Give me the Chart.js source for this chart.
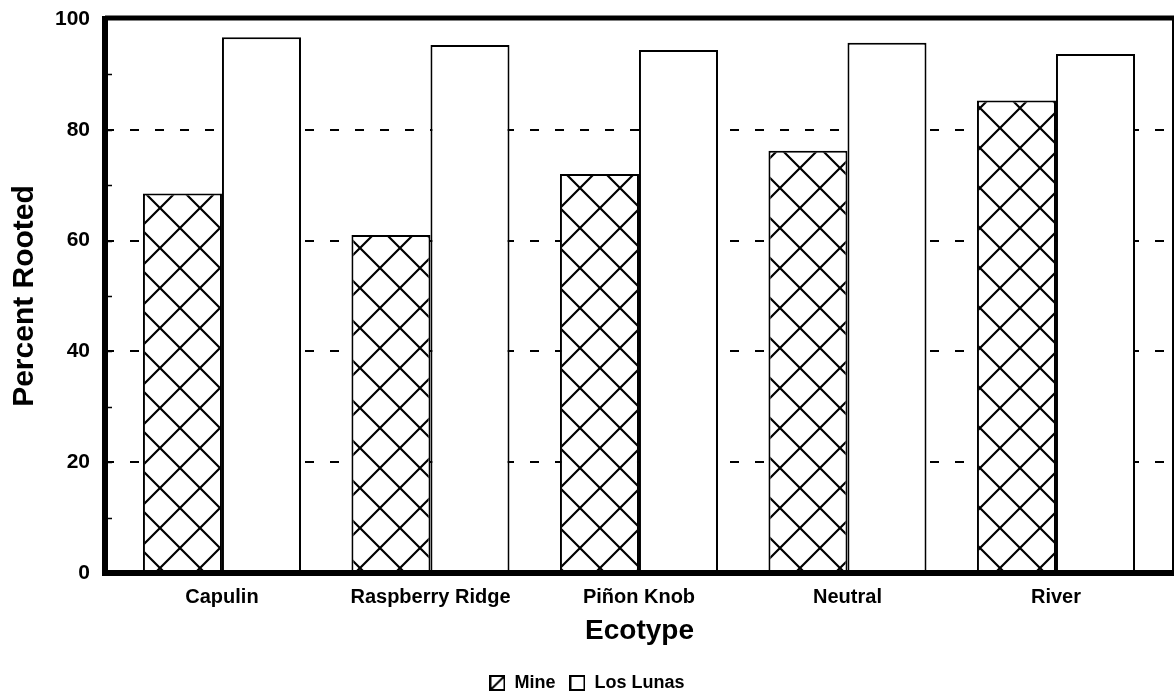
<!DOCTYPE html>
<html>
<head>
<meta charset="utf-8">
<script src="https://cdn.jsdelivr.net/npm/chart.js@4/dist/chart.umd.min.js"></script>
<style>
  html, body { margin: 0; padding: 0; background: #fff; }
  #wrap { width: 1176px; height: 696px; position: relative; }
</style>
</head>
<body>
<div id="wrap"><canvas id="rootChart"></canvas></div>
<script>
//-- data --
const ecotypes = ["Capulin", "Raspberry Ridge", "Piñon Knob", "Neutral", "River"];
const mineValues = [68.5, 61.0, 72.0, 76.2, 85.3];
const losLunasValues = [96.7, 95.3, 94.4, 95.7, 93.7];
const seriesNames = ["Mine", "Los Lunas"];
const yTicks = [0, 20, 40, 60, 80, 100];
const yMinorTicks = [10, 20, 30, 40, 50, 60, 70, 80, 90];

const FONT = "'Liberation Sans', Arial, sans-serif";

//-- cross hatch for the Mine bars --
function makeCrossHatch() {
    const c = document.createElement("canvas");
    c.width = 40; c.height = 40;
    const g = c.getContext("2d");
    g.fillStyle = "#fff";
    g.fillRect(0, 0, 40, 40);
    g.strokeStyle = "#000";
    g.lineWidth = 2.2;
    g.beginPath();
    g.moveTo(-5, -5); g.lineTo(45, 45);
    g.moveTo(45, -5); g.lineTo(-5, 45);
    g.stroke();
    const p = g.createPattern(c, "repeat");
    p.setTransform(new DOMMatrix().translate(0, 8));
    return p;
}

//-- small icons for the legend --
function makeLegendIcon(withDiagonal) {
    const c = document.createElement("canvas");
    c.width = 16; c.height = 16;
    const g = c.getContext("2d");
    g.fillStyle = "#fff";
    g.fillRect(0, 0, 16, 16);
    g.strokeStyle = "#000";
    g.lineWidth = 2;
    g.strokeRect(1, 1, 14, 14);
    if (withDiagonal) {
        g.beginPath();
        g.moveTo(15, 1); g.lineTo(1, 15);
        g.stroke();
    }
    return c;
}

const hatch = makeCrossHatch();
const legendIcons = [makeLegendIcon(true), makeLegendIcon(false)];

//-- frame and minor tick marks drawn on top --
const framePlugin = {
    id: "frame",
    afterDatasetsDraw(chart) {
        const { ctx, chartArea } = chart;
        const { left, right, top, bottom } = chartArea;
        const y = chart.scales.y;
        ctx.save();
        ctx.strokeStyle = "#000";
        ctx.lineWidth = 1.5;
        ctx.beginPath();
        yMinorTicks.forEach(v => {
            const py = Math.round(y.getPixelForValue(v)) + 0.5;
            ctx.moveTo(left, py);
            ctx.lineTo(left + 7, py);
        });
        ctx.stroke();

        ctx.lineWidth = 2;
        ctx.beginPath();
        ctx.moveTo(right - 1, top);
        ctx.lineTo(right - 1, bottom);
        ctx.stroke();

        ctx.lineWidth = 5;
        ctx.beginPath();
        ctx.moveTo(left, top - 1);
        ctx.lineTo(right, top - 1);
        ctx.stroke();

        ctx.lineWidth = 6;
        ctx.beginPath();
        ctx.moveTo(left, top - 3);
        ctx.lineTo(left, bottom);
        ctx.lineTo(right, bottom);
        ctx.stroke();
        ctx.restore();
    }
};

const ctx = document.getElementById("rootChart").getContext("2d");
new Chart(ctx, {
    type: "bar",
    data: {
        datasets: [
            {
                label: seriesNames[0],
                data: mineValues.map((v, i) => ({ x: i, y: v })),
                backgroundColor: hatch,
                borderColor: "#000",
                borderWidth: 2
            },
            {
                label: seriesNames[1],
                data: losLunasValues.map((v, i) => ({ x: i, y: v })),
                backgroundColor: "#fff",
                borderColor: "#000",
                borderWidth: 2
            }
        ]
    },
    options: {
        responsive: true,
        maintainAspectRatio: false,
        animation: false,
        categoryPercentage: 0.758,
        barPercentage: 1,
        layout: { padding: { top: 19, right: 2, bottom: -6, left: 0 } },
        plugins: {
            tooltip: { enabled: false },
            legend: {
                position: "bottom",
                labels: {
                    usePointStyle: true,
                    boxWidth: 16,
                    boxHeight: 16,
                    padding: 14,
                    color: "#000",
                    font: { family: FONT, size: 18, weight: "bold" },
                    generateLabels: (chart) => chart.data.datasets.map((ds, i) => ({
                        text: ds.label,
                        pointStyle: legendIcons[i],
                        datasetIndex: i,
                        hidden: false,
                        fillStyle: "#fff",
                        strokeStyle: "#000",
                        lineWidth: 0,
                        fontColor: "#000"
                    }))
                }
            }
        },
        scales: {
            x: {
                type: "linear",
                offset: false,
                min: -0.561,
                max: 4.566,
                grid: { display: false, drawTicks: false },
                border: { display: false },
                afterBuildTicks: (scale) => {
                    scale.ticks = ecotypes.map((_, i) => ({ value: i }));
                },
                afterFit: (scale) => {
                    scale.height = 87;
                    scale.paddingLeft = 0;
                    scale.paddingRight = 0;
                },
                ticks: {
                    autoSkip: false,
                    maxRotation: 0,
                    padding: 12,
                    color: "#000",
                    font: { family: FONT, size: 20, weight: "bold" },
                    callback: (v) => ecotypes[v]
                },
                title: {
                    display: true,
                    text: "Ecotype",
                    color: "#000",
                    font: { family: FONT, size: 28, weight: "bold" },
                    padding: { top: 0, bottom: 12 }
                }
            },
            y: {
                min: 0,
                max: 100,
                afterBuildTicks: (scale) => {
                    scale.ticks = yTicks.map(v => ({ value: v }));
                },
                afterFit: (scale) => {
                    scale.width = 105;
                    scale.paddingTop = 0;
                    scale.paddingBottom = 0;
                },
                grid: {
                    drawTicks: false,
                    lineWidth: 2,
                    color: (c) => (c.tick && (c.tick.value === 0 || c.tick.value === 100)) ? "rgba(0,0,0,0)" : "#000"
                },
                border: { display: false, dash: [9, 16] },
                ticks: {
                    padding: 15,
                    color: "#000",
                    font: { family: FONT, size: 21, weight: "bold" }
                },
                title: {
                    display: true,
                    text: "Percent Rooted",
                    color: "#000",
                    font: { family: FONT, size: 30, weight: "bold" },
                    padding: { top: 7, bottom: 0 }
                }
            }
        }
    },
    plugins: [framePlugin]
});
</script>
</body>
</html>
